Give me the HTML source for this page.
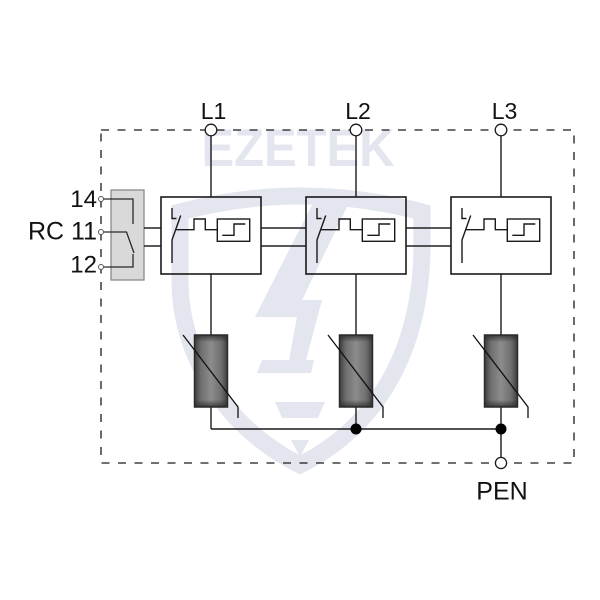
<!DOCTYPE html>
<html>
<head>
<meta charset="utf-8">
<style>
  html,body{margin:0;padding:0;background:#fff;}
  svg{display:block;}
  text{font-family:"Liberation Sans",Arial,sans-serif;}
</style>
</head>
<body>
<svg width="600" height="600" viewBox="0 0 600 600" xmlns="http://www.w3.org/2000/svg">
  <defs>
    <linearGradient id="gh" x1="0" y1="0" x2="1" y2="0">
      <stop offset="0" stop-color="#3e3e3e"/>
      <stop offset="0.2" stop-color="#707070"/>
      <stop offset="0.5" stop-color="#8c8c8c"/>
      <stop offset="0.8" stop-color="#707070"/>
      <stop offset="1" stop-color="#3e3e3e"/>
    </linearGradient>
    <linearGradient id="gv" x1="0" y1="0" x2="0" y2="1">
      <stop offset="0" stop-color="#2a2a2a" stop-opacity="0.8"/>
      <stop offset="0.1" stop-color="#2a2a2a" stop-opacity="0"/>
      <stop offset="0.9" stop-color="#2a2a2a" stop-opacity="0"/>
      <stop offset="1" stop-color="#2a2a2a" stop-opacity="0.8"/>
    </linearGradient>
  </defs>

  <rect width="600" height="600" fill="#fff"/>

  <!-- watermark -->
  <g fill="#e3e5ef">
    <text x="201.5" y="166" font-size="53" font-weight="bold" textLength="193" lengthAdjust="spacingAndGlyphs">EZETEK</text>
    <path d="M 180 212 Q 300 180 422 212 L 422 250 C 420 360 370 430 300 465 C 230 430 180 360 180 280 Z" fill="none" stroke="#e3e5ef" stroke-width="17"/>
    <polygon points="312,205 348,205 302,300 322,300 306,360 314,360 311,373 257,373 262,360 289,360 297,317 255,317"/>
    <polygon points="275,402 325,402 318,418 282,418"/>
    <polygon points="291,440 309,440 300,457"/>
  </g>

  <!-- dashed enclosure -->
  <rect x="101" y="130" width="473" height="333" fill="none" stroke="#1a1a1a" stroke-width="1.3" stroke-dasharray="8 8.5"/>

  <!-- RC contact block -->
  <rect x="111" y="190" width="33" height="90" fill="#d9d9d9" stroke="#8a8a8a" stroke-width="1.3"/>
  <g fill="none" stroke="#2a2a2a" stroke-width="1.3">
    <path d="M103.5 199 H133 V224"/>
    <path d="M103.5 232 H126.5 L134 253"/>
    <path d="M103.5 267 H133 V254"/>
  </g>
  <g fill="#fff" stroke="#555" stroke-width="1">
    <circle cx="101" cy="199" r="2.5"/>
    <circle cx="101" cy="232" r="2.5"/>
    <circle cx="101" cy="267" r="2.5"/>
  </g>
  <g font-size="24" fill="#111" text-anchor="end">
    <text x="97" y="207">14</text>
    <text x="97" y="239.5" font-size="25">RC 11</text>
    <text x="97" y="272.5">12</text>
  </g>

  <!-- connection lines between blocks -->
  <g stroke="#222" stroke-width="1.4">
    <line x1="144" y1="228" x2="161" y2="228"/>
    <line x1="144" y1="246" x2="161" y2="246"/>
    <line x1="261" y1="228" x2="306" y2="228"/>
    <line x1="261" y1="246" x2="306" y2="246"/>
    <line x1="406" y1="228" x2="451" y2="228"/>
    <line x1="406" y1="246" x2="451" y2="246"/>
  </g>

  <!-- one phase module, repeated -->
  <g id="ph">
    <line x1="211" y1="136" x2="211" y2="197" stroke="#1a1a1a" stroke-width="1.4"/>
    <line x1="211" y1="274" x2="211" y2="335" stroke="#1a1a1a" stroke-width="1.4"/>
    <line x1="211" y1="407" x2="211" y2="429" stroke="#1a1a1a" stroke-width="1.4"/>
    <rect x="161" y="197" width="100" height="77" fill="none" stroke="#1a1a1a" stroke-width="1.6"/>
    <g fill="none" stroke="#1a1a1a" stroke-width="1.4">
      <path d="M172 208 V218.5 H176.5"/>
      <path d="M180.7 215.5 L172 240 V263"/>
      <path d="M175.7 229.7 H194 V219 H205.3 V229.7 H217.3"/>
      <rect x="217.3" y="219" width="32.4" height="22.3"/>
      <path d="M222.3 235.3 H234 V224 H245.3"/>
    </g>
    <rect x="194.5" y="335" width="33" height="72" fill="url(#gh)"/>
    <rect x="194.5" y="335" width="33" height="72" fill="url(#gv)" stroke="#2a2a2a" stroke-width="1.5"/>
    <path d="M183 335 L238 407 V418" fill="none" stroke="#111" stroke-width="1.3"/>
    <circle cx="211" cy="130" r="5.8" fill="#fff" stroke="#1a1a1a" stroke-width="1.3"/>
  </g>
  <use href="#ph" transform="translate(145,0)"/>
  <use href="#ph" transform="translate(290,0)"/>

  <!-- bus & PEN -->
  <g stroke="#1a1a1a" stroke-width="1.4">
    <line x1="211" y1="429" x2="501" y2="429"/>
    <line x1="501" y1="429" x2="501" y2="457"/>
  </g>
  <circle cx="356" cy="429" r="5.5" fill="#000"/>
  <circle cx="501" cy="429" r="5.5" fill="#000"/>
  <circle cx="501" cy="463" r="5.6" fill="#fff" stroke="#1a1a1a" stroke-width="1.3"/>

  <!-- labels -->
  <g font-size="23" fill="#111" text-anchor="middle">
    <text x="213.5" y="119">L1</text>
    <text x="358" y="119">L2</text>
    <text x="504.5" y="119">L3</text>
    <text x="502" y="499.5" font-size="25">PEN</text>
  </g>
</svg>
</body>
</html>
